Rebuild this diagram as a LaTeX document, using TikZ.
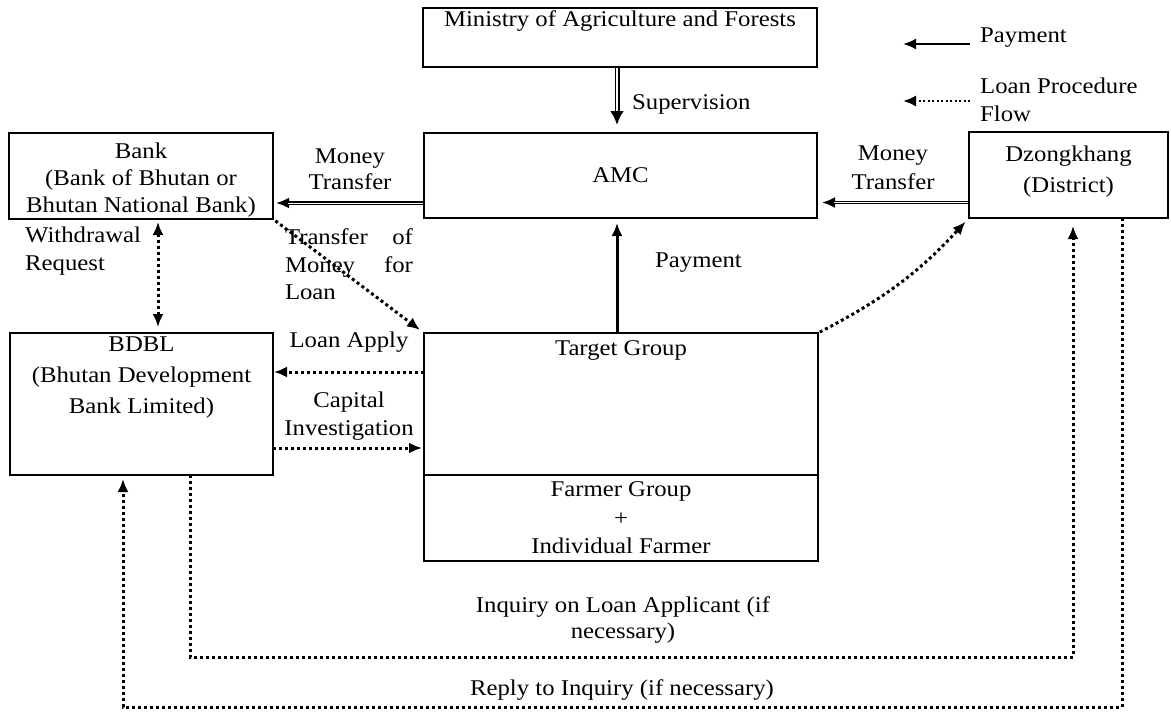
\documentclass[tikz,border=0pt]{standalone}
\usepackage{fontspec}
\setmainfont{Liberation Serif}[FakeStretch=1.1]
\usetikzlibrary{arrows.meta}
\begin{document}
\begin{tikzpicture}[x=1pt,y=-1pt, font=\fontsize{22.5}{27}\selectfont,
  box/.style={draw, line width=1.6pt, inner sep=0pt, outer sep=0pt},
  txt/.style={inner sep=0pt, align=center},
  tipL/.tip={Latex[length=13pt,width=11pt]},
  pay/.style={line width=2.5pt, -tipL},
  money/.style={line width=3.5pt, -tipL},
  moneyin/.style={white, line width=1pt},
  loan/.style={line width=3pt, dash pattern=on 3pt off 3pt, -tipL},
]
\useasboundingbox (0,0) rectangle (1171,712);

% boxes
\node[box, minimum width=394pt, minimum height=59pt] (min) at (620,37.5) {};
\node[txt] (mint) at (620,21) {Ministry of Agriculture and Forests};
\node[box, minimum width=393pt, minimum height=85pt] (amc) at (620.5,175.5) {AMC};
\node[box, minimum width=199pt, minimum height=86pt] (dz) at (1068.5,175) {};
\node[txt, font=\fontsize{22.5}{31}\selectfont] (dzt) at (1068.5,172) {Dzongkhang\\(District)};
\node[box, minimum width=264pt, minimum height=86pt] (bank) at (141,176) {};
\node[txt] (bankt) at (141,180) {Bank\\(Bank of Bhutan or\\Bhutan National Bank)};
\node[box, minimum width=263pt, minimum height=142pt] (bdbl) at (141.5,404) {};
\node[txt, font=\fontsize{22.5}{31}\selectfont] (bdblt) at (141.5,378) {BDBL\\(Bhutan Development\\Bank Limited)};
\node[box, minimum width=394pt, minimum height=142pt] (target) at (621,404) {};
\node[txt] (targett) at (621,350) {Target Group};
\node[box, minimum width=394pt, minimum height=86pt, align=center, font=\fontsize{22.5}{28.5}\selectfont] (farmer) at (621,518) {Farmer Group\\+\\Individual Farmer};

% supervision (double arrow)
\draw[line width=5pt, -{Latex[length=14pt,width=14pt]}, shorten >=8pt] ([xshift=-3pt]min.south) -- ([xshift=-3.5pt]amc.north);
\draw[white, line width=1.8pt, shorten >=22pt, shorten <=1pt] ([xshift=-3pt]min.south) -- ([xshift=-3.5pt]amc.north);
\node[txt, anchor=west] (supl) at (632,104) {Supervision};

% money transfers
\draw[money, shorten >=3pt] ([yshift=-27.5pt]amc.west) -- ([yshift=-27pt]bank.east);
\draw[moneyin, shorten >=15pt, shorten <=1pt] ([yshift=-27.5pt]amc.west) -- ([yshift=-27pt]bank.east);
\node[txt, font=\fontsize{22.5}{26}\selectfont] (mt1) at (350,169.5) {Money\\Transfer};
\draw[money, shorten >=5pt] ([yshift=-27.5pt]dz.west) -- ([yshift=-27pt]amc.east);
\draw[moneyin, shorten >=17pt, shorten <=1pt] ([yshift=-27.5pt]dz.west) -- ([yshift=-27pt]amc.east);
\node[txt, font=\fontsize{22.5}{29}\selectfont] (mt2) at (893,167.5) {Money\\Transfer};

% payment
\draw[pay, line width=3pt, shorten >=5pt] ([xshift=-4pt]target.north) -- ([xshift=-3.5pt]amc.south);
\node[txt, anchor=west] (payl) at (655,263) {Payment};

% bank <-> bdbl
\draw[loan, tipL-tipL, shorten >=6pt, shorten <=3pt] ([xshift=17pt]bank.south) -- ([xshift=16.5pt]bdbl.north);
\node[txt, anchor=west, align=left, font=\fontsize{22.5}{28}\selectfont] (wr) at (25,251) {Withdrawal\\Request};

% bank -> target
\draw[loan, shorten >=5pt, shorten <=3pt] (bank.south east) -- (target.north west);
\node[txt, text width=128pt, align=left, font=\fontsize{22.5}{27.5}\selectfont] (tml) at (349,264.5) {Transfer\hfill of\\Money\hfill for\\Loan};

% loan apply / capital
\draw[loan, shorten >=1pt] ([yshift=32pt]target.west) -- ([yshift=32pt]bdbl.east);
\node[txt] (lal) at (349,342) {Loan Apply};
\draw[loan, shorten >=2pt] ([yshift=-44pt]bdbl.east) -- ([yshift=-44pt]target.west);
\node[txt, font=\fontsize{22.5}{28}\selectfont] (cil) at (349,416) {Capital\\Investigation};

% target -> dzongkhang
\draw[loan, shorten >=5pt, shorten <=2pt] (target.north east) to[bend right=10] (dz.south west);

% inquiry
\coordinate (iqy) at (0,657);
\coordinate (iqa) at ([xshift=48.5pt]bdbl.south);
\coordinate (iqb) at ([xshift=4.5pt]dz.south);
\draw[loan, shorten >=8pt] (iqa) -- (iqa |- iqy) -- (iqb |- iqy) -- (iqb);
\node[txt, font=\fontsize{22.5}{26}\selectfont] (iql) at (623,620) {Inquiry on Loan Applicant (if\\necessary)};

% reply
\coordinate (rpy) at (0,707);
\coordinate (rpa) at ([xshift=53.5pt]dz.south);
\coordinate (rpb) at ([xshift=-18.5pt]bdbl.south);
\draw[loan, shorten >=4pt] (rpa) -- (rpa |- rpy) -- (rpb |- rpy) -- (rpb);
\node[txt] (rpl) at (622,690) {Reply to Inquiry (if necessary)};

% legend
\coordinate (lg1a) at (970,44);
\coordinate (lg1b) at (903,44);
\draw[pay, line width=2pt] (lg1a) -- (lg1b);
\node[txt, anchor=west] (lgpay) at (980,38) {Payment};
\coordinate (lg2a) at (970,101);
\coordinate (lg2b) at (903,101);
\draw[loan, line width=2pt, dash pattern=on 2pt off 2.5pt] (lg2a) -- (lg2b);
\node[txt, anchor=west, align=left, font=\fontsize{22.5}{28}\selectfont] (lgloan) at (980,100) {Loan Procedure\\Flow};
\end{tikzpicture}
\end{document}
